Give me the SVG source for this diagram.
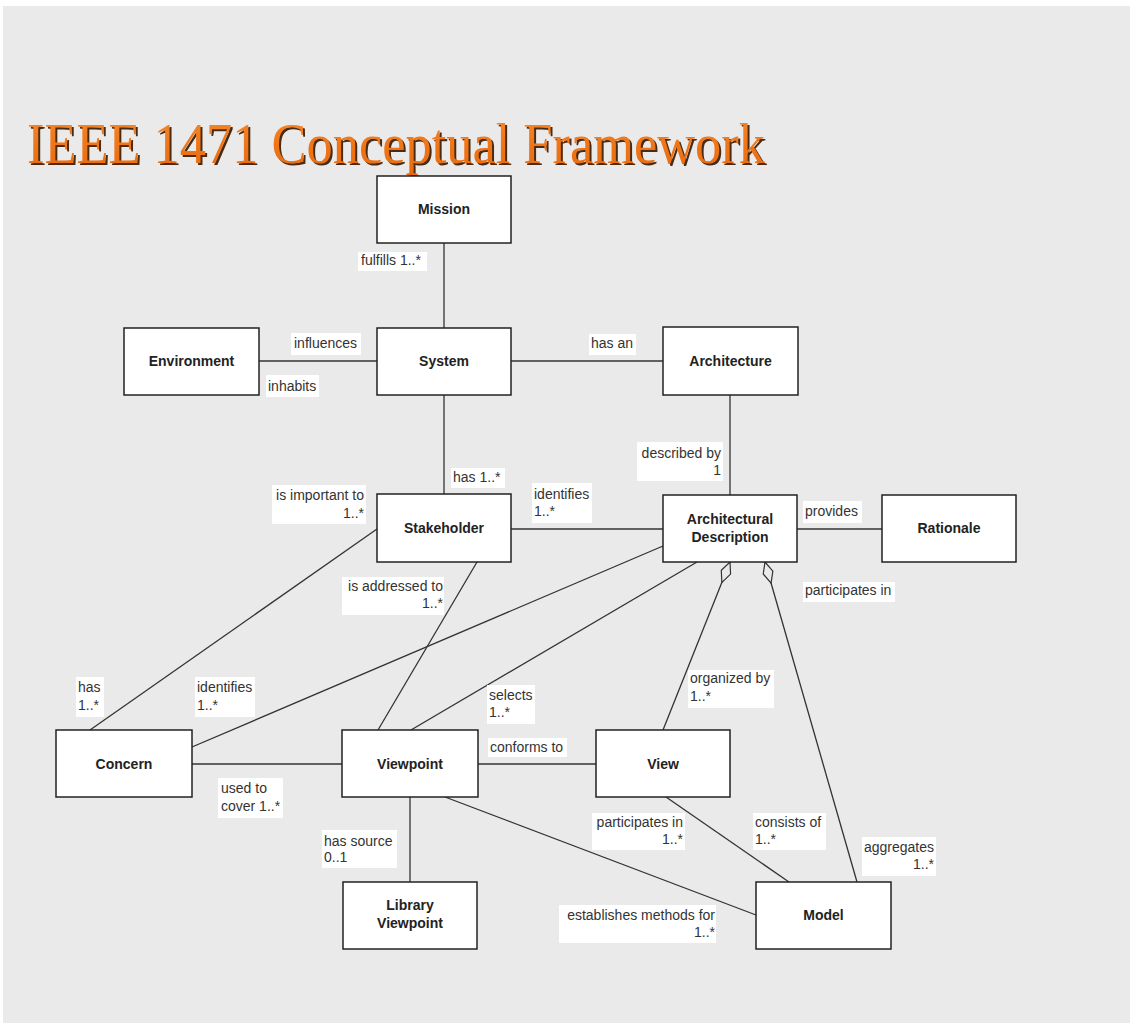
<svg xmlns="http://www.w3.org/2000/svg" width="1130" height="1023" viewBox="0 0 1130 1023">
  <style>
    .node rect { fill: #ffffff; stroke: #222222; stroke-width: 1.5; }
    .node text { font-family: "Liberation Sans", Arial, sans-serif; font-size: 14px; font-weight: bold; fill: #222222; text-anchor: middle; }
    .conn line { stroke: #333333; stroke-width: 1.3; fill: none; }
    .lbl rect { fill: #ffffff; stroke: none; }
    .lbl text { font-family: "Liberation Sans", Arial, sans-serif; font-size: 14px; fill: #333333; }
    .lbl text.r { text-anchor: end; }
    .title { font-family: "Liberation Serif", "Times New Roman", serif; font-size: 56px; }
  </style>
  <defs>
    <marker id="aggregation" markerUnits="userSpaceOnUse" markerWidth="24" markerHeight="12" refX="0" refY="6" orient="auto" viewBox="0 0 24 12" overflow="visible">
      <path d="M0,6 L11,1 L22,6 L11,11 Z" fill="#eaeaea" stroke="#333333" stroke-width="1.2"/>
    </marker>
    <linearGradient id="titleFill" x1="0" y1="0" x2="0" y2="1">
      <stop offset="0" stop-color="#f58a2e"/>
      <stop offset="0.55" stop-color="#ef7417"/>
      <stop offset="1" stop-color="#e86a10"/>
    </linearGradient>
  </defs>

  <!-- page -->
  <rect x="0" y="0" width="1130" height="1023" fill="#ffffff"/>
  <rect x="3" y="6" width="1127" height="1017" fill="#eaeaea"/>

  <!-- heading with drop shadow -->
  <g id="title">
    <text class="title" x="29" y="164.5" textLength="738" lengthAdjust="spacingAndGlyphs" fill="#4a2c14">IEEE 1471 Conceptual Framework</text>
    <text class="title" x="27" y="162.5" textLength="738" lengthAdjust="spacingAndGlyphs" fill="url(#titleFill)">IEEE 1471 Conceptual Framework</text>
  </g>

  <!-- associations -->
  <g id="connectors" class="conn">
    <line x1="444" y1="243" x2="444" y2="328"/>
    <line x1="259" y1="361" x2="377" y2="361"/>
    <line x1="511" y1="361" x2="663" y2="361"/>
    <line x1="730" y1="395" x2="730" y2="495"/>
    <line x1="444" y1="395" x2="444" y2="494"/>
    <line x1="511" y1="529" x2="663" y2="529"/>
    <line x1="797" y1="529" x2="882" y2="529"/>
    <line x1="377" y1="529" x2="90" y2="730"/>
    <line x1="477" y1="562" x2="378" y2="730"/>
    <line x1="663" y1="546" x2="192" y2="747"/>
    <line x1="697" y1="562" x2="411" y2="730"/>
    <line x1="730" y1="562" x2="663" y2="730" marker-start="url(#aggregation)"/>
    <line x1="765" y1="562" x2="857" y2="882" marker-start="url(#aggregation)"/>
    <line x1="192" y1="764" x2="342" y2="764"/>
    <line x1="478" y1="764" x2="596" y2="764"/>
    <line x1="410" y1="797" x2="410" y2="882"/>
    <line x1="445" y1="797" x2="756" y2="915"/>
    <line x1="666" y1="797" x2="789" y2="882"/>
  </g>

  <!-- association labels -->
  <g id="labels" class="lbl">
    <rect x="358" y="252" width="69" height="19"/><text x="361" y="265">fulfills 1..*</text>
    <rect x="291" y="333" width="70" height="22"/><text x="294" y="348">influences</text>
    <rect x="266" y="375" width="53" height="22"/><text x="268" y="391">inhabits</text>
    <rect x="589" y="334" width="47" height="21"/><text x="591" y="348">has an</text>
    <rect x="637" y="442" width="86" height="39"/><text class="r" x="721" y="458">described by</text><text class="r" x="721" y="475">1</text>
    <rect x="451" y="468" width="54" height="20"/><text x="453" y="482">has 1..*</text>
    <rect x="272" y="485" width="94" height="39"/><text class="r" x="364" y="500">is important to</text><text class="r" x="364" y="518">1..*</text>
    <rect x="532" y="483" width="60" height="40"/><text x="534" y="499">identifies</text><text x="534" y="516">1..*</text>
    <rect x="342" y="577" width="102" height="38"/><text class="r" x="443" y="591">is addressed to</text><text class="r" x="443" y="608">1..*</text>
    <rect x="803" y="501" width="59" height="22"/><text x="805" y="516">provides</text>
    <rect x="803" y="582" width="92" height="20"/><text x="805" y="595">participates in</text>
    <rect x="688" y="670" width="86" height="38"/><text x="690" y="683">organized by</text><text x="690" y="701">1..*</text>
    <rect x="76" y="677" width="28" height="40"/><text x="78" y="692">has</text><text x="78" y="710">1..*</text>
    <rect x="195" y="677" width="60" height="40"/><text x="197" y="692">identifies</text><text x="197" y="710">1..*</text>
    <rect x="487" y="685" width="48" height="39"/><text x="489" y="700">selects</text><text x="489" y="717">1..*</text>
    <rect x="488" y="738" width="79" height="19"/><text x="490" y="752">conforms to</text>
    <rect x="218" y="778" width="65" height="40"/><text x="221" y="793">used to</text><text x="221" y="811">cover 1..*</text>
    <rect x="322" y="830" width="75" height="38"/><text x="324" y="846">has source</text><text x="324" y="862">0..1</text>
    <rect x="592" y="813" width="93" height="37"/><text class="r" x="683" y="827">participates in</text><text class="r" x="683" y="844">1..*</text>
    <rect x="753" y="813" width="73" height="37"/><text x="755" y="827">consists of</text><text x="755" y="844">1..*</text>
    <rect x="862" y="837" width="74" height="39"/><text class="r" x="934" y="852">aggregates</text><text class="r" x="934" y="869">1..*</text>
    <rect x="559" y="905" width="157" height="38"/><text class="r" x="715" y="920">establishes methods for</text><text class="r" x="715" y="937">1..*</text>
  </g>

  <!-- classes -->
  <g id="mission" class="node"><rect x="377" y="176" width="134" height="67"/><text x="444" y="214">Mission</text></g>
  <g id="environment" class="node"><rect x="124" y="328" width="135" height="67"/><text x="191.5" y="366">Environment</text></g>
  <g id="system" class="node"><rect x="377" y="328" width="134" height="67"/><text x="444" y="366">System</text></g>
  <g id="architecture" class="node"><rect x="663" y="327" width="135" height="68"/><text x="730.5" y="366">Architecture</text></g>
  <g id="stakeholder" class="node"><rect x="377" y="494" width="134" height="68"/><text x="444" y="533">Stakeholder</text></g>
  <g id="architectural-description" class="node"><rect x="663" y="495" width="134" height="67"/><text x="730" y="524">Architectural</text><text x="730" y="542">Description</text></g>
  <g id="rationale" class="node"><rect x="882" y="495" width="134" height="67"/><text x="949" y="533">Rationale</text></g>
  <g id="concern" class="node"><rect x="56" y="730" width="136" height="67"/><text x="124" y="769">Concern</text></g>
  <g id="viewpoint" class="node"><rect x="342" y="730" width="136" height="67"/><text x="410" y="769">Viewpoint</text></g>
  <g id="view" class="node"><rect x="596" y="730" width="134" height="67"/><text x="663" y="769">View</text></g>
  <g id="library-viewpoint" class="node"><rect x="343" y="882" width="134" height="67"/><text x="410" y="910">Library</text><text x="410" y="928">Viewpoint</text></g>
  <g id="model" class="node"><rect x="756" y="882" width="135" height="67"/><text x="823.5" y="920">Model</text></g>
</svg>
